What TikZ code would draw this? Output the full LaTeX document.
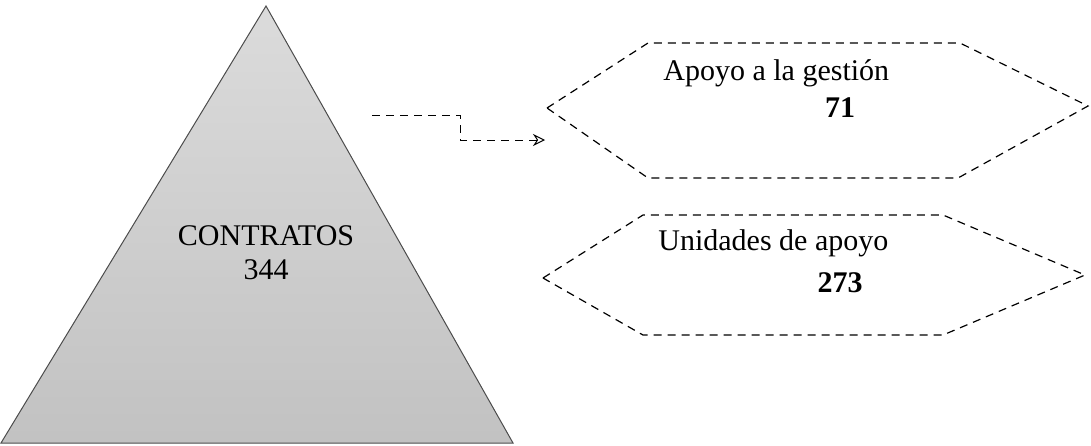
\documentclass[tikz,border=0pt]{standalone}
\usepackage{fontspec}
\setmainfont{Liberation Serif}[Ligatures=TeX]
\newfontfamily\diagfont{Liberation Serif}
\usetikzlibrary{arrows.meta}
\usetikzlibrary{calc}

\begin{document}
\begin{tikzpicture}[x=0.5pt, y=-0.5pt,
    hexline/.style={draw=black, line width=0.6pt, dash pattern=on 4pt off 3pt},
    lbl/.style={font=\diagfont\fontsize{15}{17}\selectfont, inner sep=0pt}]
  \useasboundingbox (0,0) rectangle (1091,445);
  % pyramid
  \coordinate (Top) at (266,6);
  \coordinate (BL) at (1,443);
  \coordinate (BR) at (513,443);
  \shade[top color=gray!28, bottom color=gray!48, draw=gray!60!black, line width=0.5pt]
    (Top) -- (BR) -- (BL) -- cycle;
  \node[lbl, align=center] (Contratos) at (266,253) {CONTRATOS\\344};
  % first hexagon
  \coordinate (GestW) at (547,108);
  \coordinate (GestE) at (1088,106);
  \draw[hexline] (GestW) -- (648,43) -- (960,43) -- (GestE) -- (958,178) -- (648,178) -- cycle;
  \node[lbl, anchor=west] (Gestion) at (663,73) {Apoyo a la gestión};
  \node[lbl, font=\diagfont\fontsize{15}{17}\selectfont\bfseries] (GestNum) at (840,108) {71};
  % second hexagon
  \coordinate (UnidW) at (543,278);
  \coordinate (UnidE) at (1085,275);
  \draw[hexline] (UnidW) -- (643,215) -- (943,215) -- (UnidE) -- (943,335) -- (643,335) -- cycle;
  \node[lbl, anchor=west] (Unidades) at (658,243) {Unidades de apoyo};
  \node[lbl, font=\diagfont\fontsize{15}{17}\selectfont\bfseries] (UnidNum) at (840,283) {273};
  % connector
  \coordinate (ArrStart) at (372,115);
  \coordinate (ArrEnd) at ($(GestW)+(-2,32)$);
  \draw[line width=0.5pt, dash pattern=on 4pt off 3pt, -{Stealth[open, length=6pt, width=6pt]}]
    (ArrStart) -- (460,115) -- (460,140) -- (ArrEnd);
\end{tikzpicture}
\end{document}
